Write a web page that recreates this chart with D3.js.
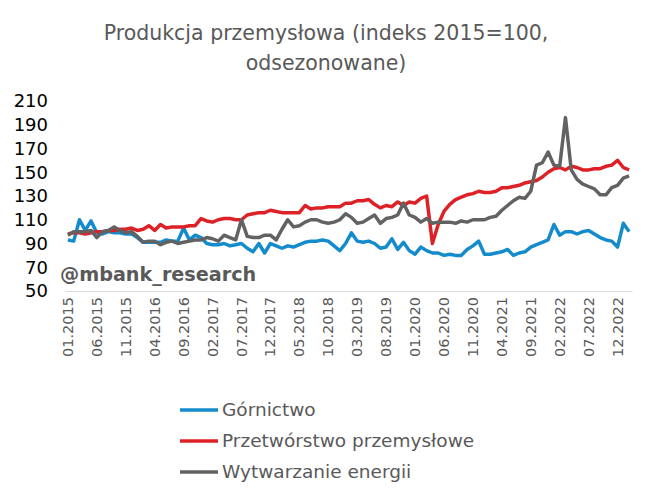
<!DOCTYPE html>
<html>
<head>
<meta charset="utf-8">
<script src="https://cdn.jsdelivr.net/npm/d3@7"></script>
<style>
  body { margin: 0; background: #fff; }
  text { font-family: "DejaVu Sans", Verdana, sans-serif; }
</style>
</head>
<body>
<div id="container"></div>
<script>
const WIDTH = 652;
const HEIGHT = 503;

// monthly categories 01.2015 .. 02.2023
const months = [];
for (let y = 2015; y <= 2023; y++) {
  for (let m = 1; m <= 12; m++) {
    if (y === 2023 && m > 2) break;
    months.push(String(m).padStart(2, '0') + '.' + y);
  }
}
const tickLabels = months.filter((d, i) => i % 5 === 0);
const yTicks = [50, 70, 90, 110, 130, 150, 170, 190, 210];

const gornictwo = [
  93, 92, 110, 101, 109, 99, 98, 100, 99, 99, 98, 98,
  95, 91, 91, 91, 91, 93, 92, 92, 103, 93, 97, 95,
  90, 89, 89, 90, 88, 89, 90, 86, 83, 90, 82, 90,
  88, 86, 88, 87, 89, 91, 92, 92, 93, 92, 88, 84,
  90, 99, 92, 91, 92, 90, 86, 87, 94, 85, 91, 84,
  81, 87, 84, 82, 82, 80, 81, 80, 80, 85, 88, 92,
  81, 81, 82, 83, 85, 80, 82, 83, 87, 89, 91, 93,
  106, 97, 100, 100, 98, 100, 101, 98, 95, 93, 92, 87,
  107, 100
];
const przetworstwo = [
  98, 99, 99, 98, 99, 100, 100, 101, 101, 102, 102, 103,
  101, 102, 105, 101, 106, 103, 104, 104, 104, 105, 105, 111,
  109, 108, 110, 111, 111, 110, 110, 114, 115, 116, 116, 118,
  117, 116, 116, 116, 116, 122, 119, 120, 120, 121, 121, 121,
  124, 124, 126, 126, 127, 123, 120, 122, 121, 125, 122, 125,
  124, 128, 130, 90, 106, 117, 123, 127, 129, 131, 132, 134,
  133, 133, 134, 137, 137, 138, 139, 141, 142, 143, 146, 150,
  153, 154, 152, 155, 154, 152, 152, 153, 153, 155, 156, 160,
  154, 152
];
const energia = [
  97, 100, 100, 100, 101, 95, 100, 101, 104, 101, 99, 100,
  96, 91, 92, 92, 89, 91, 92, 90, 91, 92, 93, 93,
  95, 94, 92, 97, 95, 93, 110, 96, 95, 95, 97, 97,
  93, 102, 110, 104, 105, 108, 110, 110, 108, 107, 108, 110,
  115, 112, 107, 108, 111, 114, 107, 111, 112, 114, 124, 114,
  112, 108, 111, 107, 108, 108, 108, 107, 109, 108, 110, 110,
  110, 112, 113, 118, 122, 126, 129, 128, 134, 156, 158, 167,
  156, 155, 196, 152, 144, 140, 138, 136, 131, 131, 137, 139,
  145, 147
];

const series = [
  { name: 'Górnictwo', values: gornictwo, color: '#148bcb' },
  { name: 'Przetwórstwo przemysłowe', values: przetworstwo, color: '#de2126' },
  { name: 'Wytwarzanie energii', values: energia, color: '#626262' }
];

const plot = { left: 65, right: 632, top: 101, bottom: 291 };

const svg = d3.select('#container')
  .append('svg')
    .attr('width', WIDTH)
    .attr('height', HEIGHT);

const x = d3.scaleBand()
  .domain(months)
  .range([plot.left, plot.right]);

const y = d3.scaleLinear()
  .domain([50, 210])
  .range([plot.bottom, plot.top]);

// title
svg.append('text')
  .attr('x', 326)
  .attr('text-anchor', 'middle')
  .attr('fill', '#595959')
  .style('font-size', '20.5px')
  .selectAll('tspan')
  .data(['Produkcja przemysłowa (indeks 2015=100,', 'odsezonowane)'])
  .enter()
  .append('tspan')
    .attr('x', 326)
    .attr('y', (d, i) => 40 + i * 30)
    .text(d => d);

// y axis labels only
const yAxis = svg.append('g')
  .attr('transform', `translate(${plot.left}, 0)`)
  .call(d3.axisLeft(y).tickValues(yTicks).tickSize(0).tickPadding(17));
yAxis.select('.domain').remove();
yAxis.selectAll('text')
  .style('font-size', '18px')
  .attr('fill', '#000');

// x axis
const xAxis = svg.append('g')
  .attr('transform', `translate(0, ${plot.bottom})`)
  .call(d3.axisBottom(x).tickValues(tickLabels).tickSize(0));
xAxis.select('.domain')
  .attr('stroke', '#d9d9d9')
  .attr('stroke-width', 1.2);
xAxis.selectAll('text')
  .style('font-size', '14.5px')
  .attr('fill', '#595959')
  .attr('transform', 'rotate(-90)')
  .attr('text-anchor', 'end')
  .attr('x', -6)
  .attr('y', 0)
  .attr('dy', '0.35em');

// lines
const line = d3.line()
  .x((d, i) => x(months[i]) + x.bandwidth() / 2)
  .y(d => y(d));

svg.selectAll('.series')
  .data(series)
  .enter()
  .append('path')
    .attr('class', 'series')
    .attr('fill', 'none')
    .attr('stroke', s => s.color)
    .attr('stroke-width', 3.5)
    .attr('stroke-linejoin', 'round')
    .attr('d', s => line(s.values));

// watermark
svg.append('text')
  .attr('x', 60)
  .attr('y', 281)
  .attr('fill', '#595959')
  .style('font-size', '19.2px')
  .style('font-weight', 'bold')
  .text('@mbank_research');

// legend
const legend = svg.selectAll('.legend')
  .data(series)
  .enter()
  .append('g')
    .attr('class', 'legend')
    .attr('transform', (s, i) => `translate(180, ${410 + i * 31})`);

legend.append('line')
  .attr('x1', 0)
  .attr('x2', 38)
  .attr('stroke', s => s.color)
  .attr('stroke-width', 3.5);

legend.append('text')
  .attr('x', 42)
  .attr('dy', '0.35em')
  .attr('fill', '#595959')
  .style('font-size', '18.5px')
  .text(s => s.name);
</script>
</body>
</html>
